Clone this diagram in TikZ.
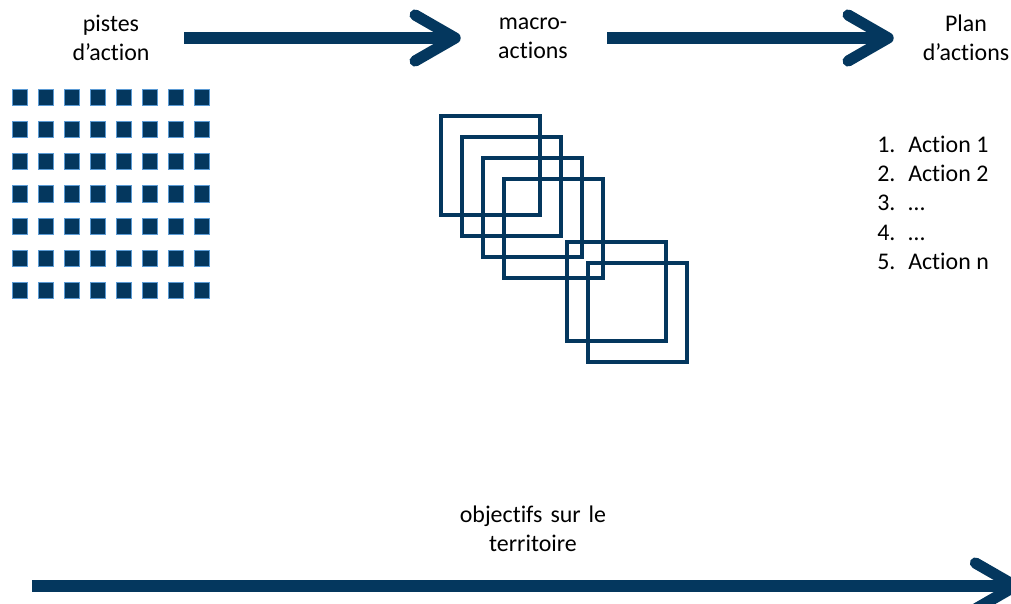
\documentclass[tikz,border=0pt]{standalone}
\usepackage{fontspec}
\setmainfont[Ligatures=NoCommon]{Carlito}
\usepackage{xcolor}
\usepackage{tikz}
\usetikzlibrary{arrows.meta}

\definecolor{navy}{RGB}{4,55,94}
\definecolor{tileedge}{RGB}{91,155,213}

\begin{document}
\begin{tikzpicture}[x=0.25mm, y=-0.25mm,
        stage/.style={align=center, text width=25mm, inner sep=0pt, font=\fontsize{17}{20.6}\selectfont},
        item/.style={anchor=base west, inner sep=0pt, font=\fontsize{17}{20.6}\selectfont},
        flow/.style={draw=navy, line width=2.8mm, -{Straight Barb[round, length=10mm, width=11.5mm]}},
        tile/.style={fill=navy, draw=tileedge, line width=0.25mm},
        frame/.style={draw=navy, line width=1.2mm}
    ]
        \useasboundingbox (0,0) rectangle (1011,604);

        \node[stage] (pistes) at (111,38) {pistes\\d’action};
        \node[stage] (macro) at (533,38) {macro-\\actions};
        \node[stage] (plan) at (966,38) {Plan\\d’actions};

        \draw[flow, shorten <=5.75mm, shorten >=5.5mm] (pistes) -- (macro);
        \draw[flow, shorten <=6mm, shorten >=5.5mm] (macro) -- (plan);

        % pistes: grille de carres pleins
        \foreach \c in {0,...,7}
            \foreach \r in {0,...,6}
                \draw[tile] (12+26*\c,90+32*\r) rectangle ++(15,16);

        % macro-actions: carres qui se chevauchent
        \foreach \o in {0,21,42,63,126,147}
            \draw[frame] (441+\o,116+\o) rectangle ++(99,99);

        % plan d'actions
        \foreach \i/\t in {1/Action 1, 2/Action 2, 3/…, 4/…, 5/Action n} {
            \node[item] (num\i) at (877,124+29*\i) {\i.};
            \node[item] (act\i) at (908,124+29*\i) {\t};
        }

        \node[stage, text width=40mm] (objectifs) at (533,529) {objectifs sur le\\territoire};
        \coordinate (axis start) at (32,586);
        \coordinate (axis end) at (1021,586);
        \draw[flow] (axis start) -- (axis end);
    \end{tikzpicture}
\end{document}
